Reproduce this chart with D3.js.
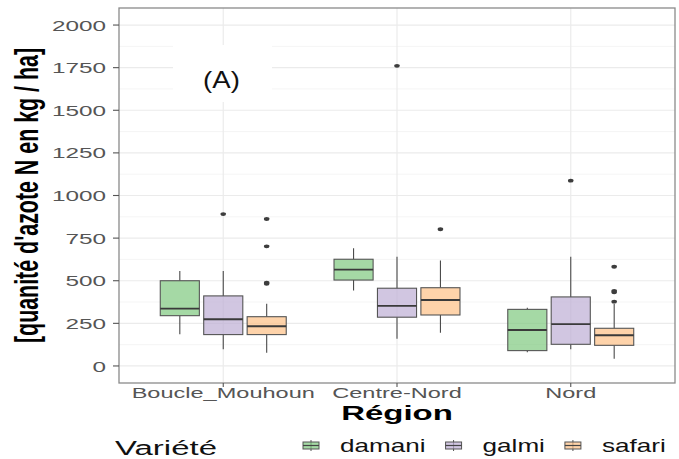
<!DOCTYPE html>
<html>
<head>
<meta charset="utf-8">
<script src="https://cdn.jsdelivr.net/npm/d3@7"></script>
<style>
  body { margin: 0; background: #fff; }
  text { font-family: "Liberation Sans", Arial, sans-serif; }
</style>
</head>
<body>
<script>
// data
const regions = ["Boucle_Mouhoun", "Centre-Nord", "Nord"];
const varieties = ["damani", "galmi", "safari"];
const colors = ["#7FC97F", "#BEAED4", "#FDC086"];

// [lower whisker, q1, median, q3, upper whisker] per region
const damaniStats = [[186, 295, 336, 500, 557], [442, 504, 565, 626, 690], [80, 90, 211, 332, 342]];
const galmiStats = [[98, 184, 274, 411, 557], [160, 286, 352, 456, 641], [98, 127, 245, 405, 641]];
const safariStats = [[78, 184, 233, 289, 365], [195, 299, 387, 459, 618], [43, 121, 180, 221, 365]];

const damaniOutliers = [[], [], []];
const galmiOutliers = [[891], [1761], [1087]];
const safariOutliers = [[862, 702, 482, 489], [802], [582, 432, 440, 377]];

const yTicks = [0, 250, 500, 750, 1000, 1250, 1500, 1750, 2000];
const yMinor = [125, 375, 625, 875, 1125, 1375, 1625, 1875];

const statsBy = [damaniStats, galmiStats, safariStats];
const outliersBy = [damaniOutliers, galmiOutliers, safariOutliers];

const W = 679, H = 459;
const SX = 1.57; // the picture is stretched sideways
const panel = { left: 119, right: 675, top: 8, bottom: 383 };

const svg = d3.select("body").append("svg").attr("width", W).attr("height", H);

const y = d3.scaleLinear().domain([-100, 2100]).range([panel.bottom, panel.top]);
const x = d3.scalePoint().domain(regions).range([panel.left, panel.right]).padding(0.6);
const step = x.step();
const dodge = d3.scaleBand().domain(varieties).range([-0.375 * step, 0.375 * step]);
const boxW = dodge.bandwidth() * 0.9;

// grid
const grid = svg.append("g");
grid.selectAll(".minor").data(yMinor).enter().append("line")
  .attr("x1", panel.left).attr("x2", panel.right)
  .attr("y1", d => y(d)).attr("y2", d => y(d))
  .attr("stroke", "#f3f3f3").attr("stroke-width", 0.8);
grid.selectAll(".major").data(yTicks).enter().append("line")
  .attr("x1", panel.left).attr("x2", panel.right)
  .attr("y1", d => y(d)).attr("y2", d => y(d))
  .attr("stroke", "#ebebeb").attr("stroke-width", 1.2);
grid.selectAll(".vmajor").data(regions).enter().append("line")
  .attr("x1", d => x(d)).attr("x2", d => x(d))
  .attr("y1", panel.top).attr("y2", panel.bottom)
  .attr("stroke", "#ebebeb").attr("stroke-width", 1.2);

// white label box with (A)
svg.append("rect").attr("x", 173).attr("y", 45).attr("width", 99).attr("height", 57).attr("fill", "#fff");
svg.append("text")
  .attr("transform", "translate(221.5,88) scale(1.2,1)")
  .attr("text-anchor", "middle").attr("font-size", 23).attr("fill", "#111")
  .text("(A)");

// boxes
const boxes = [];
regions.forEach((r, ri) => {
  varieties.forEach((v, vi) => {
    boxes.push({ region: r, variety: v, vi: vi, s: statsBy[vi][ri], out: outliersBy[vi][ri] });
  });
});

const bg = svg.append("g").selectAll("g").data(boxes).enter().append("g")
  .attr("transform", d => "translate(" + (x(d.region) + dodge(d.variety) + dodge.bandwidth() / 2) + ",0)");

bg.append("line")
  .attr("y1", d => y(d.s[0])).attr("y2", d => y(d.s[1]))
  .attr("stroke", "#4a4a4a").attr("stroke-width", 1.1);
bg.append("line")
  .attr("y1", d => y(d.s[3])).attr("y2", d => y(d.s[4]))
  .attr("stroke", "#4a4a4a").attr("stroke-width", 1.1);
bg.append("rect")
  .attr("x", -boxW / 2).attr("width", boxW)
  .attr("y", d => y(d.s[3])).attr("height", d => y(d.s[1]) - y(d.s[3]))
  .attr("fill", d => colors[d.vi]).attr("fill-opacity", 0.7)
  .attr("stroke", "#555").attr("stroke-width", 1.1);
bg.append("line")
  .attr("x1", -boxW / 2).attr("x2", boxW / 2)
  .attr("y1", d => y(d.s[2])).attr("y2", d => y(d.s[2]))
  .attr("stroke", "#3a3a3a").attr("stroke-width", 1.8);
bg.selectAll("ellipse").data(d => d.out).enter().append("ellipse")
  .attr("cy", d => y(d)).attr("rx", 2.8).attr("ry", 1.9)
  .attr("fill", "#3d3d3d");

// panel border
svg.append("rect")
  .attr("x", panel.left).attr("y", panel.top)
  .attr("width", panel.right - panel.left).attr("height", panel.bottom - panel.top)
  .attr("fill", "none").attr("stroke", "#8a8a8a").attr("stroke-width", 1.3);

// y axis
const ya = svg.append("g");
ya.selectAll("line").data(yTicks).enter().append("line")
  .attr("x1", panel.left - 6).attr("x2", panel.left)
  .attr("y1", d => y(d)).attr("y2", d => y(d))
  .attr("stroke", "#555").attr("stroke-width", 1.1);
ya.selectAll("text").data(yTicks).enter().append("text")
  .attr("transform", d => "translate(106," + y(d) + ") scale(" + SX + ",1)")
  .attr("dy", "0.36em").attr("text-anchor", "end")
  .attr("font-size", 15.5).attr("fill", "#555")
  .text(d => d);

// x axis
const xa = svg.append("g");
xa.selectAll("line").data(regions).enter().append("line")
  .attr("x1", d => x(d)).attr("x2", d => x(d))
  .attr("y1", panel.bottom).attr("y2", panel.bottom + 4)
  .attr("stroke", "#555").attr("stroke-width", 1.1);
xa.selectAll("text").data(regions).enter().append("text")
  .attr("transform", d => "translate(" + x(d) + ",398) scale(" + SX + ",1)")
  .attr("text-anchor", "middle").attr("font-size", 15).attr("fill", "#555")
  .text(d => d);

// titles
svg.append("text")
  .attr("transform", "translate(" + ((panel.left + panel.right) / 2) + ",420) scale(" + SX + ",1)")
  .attr("text-anchor", "middle").attr("font-size", 21).attr("font-weight", "bold").attr("fill", "#000")
  .text("Région");
svg.append("text")
  .attr("transform", "translate(38,195.5) scale(1.55,1) rotate(-90)")
  .attr("text-anchor", "middle").attr("font-size", 21.4).attr("font-weight", "bold").attr("fill", "#000")
  .text("[quanité d'azote N en kg / ha]");

// legend
svg.append("text")
  .attr("transform", "translate(115,455) scale(" + SX + ",1)")
  .attr("font-size", 21).attr("fill", "#111")
  .text("Variété");

const LSX = 1.45;
let lx = 302;
varieties.forEach((v, i) => {
  const k = svg.append("g").attr("transform", "translate(" + lx + ",440)");
  k.append("line").attr("x1", 9).attr("x2", 9).attr("y1", 0).attr("y2", 11).attr("stroke", "#555").attr("stroke-width", 1);
  k.append("rect").attr("x", 1).attr("y", 2).attr("width", 16).attr("height", 7)
    .attr("fill", colors[i]).attr("fill-opacity", 0.7).attr("stroke", "#555").attr("stroke-width", 1);
  k.append("line").attr("x1", 1).attr("x2", 17).attr("y1", 5.5).attr("y2", 5.5).attr("stroke", "#444").attr("stroke-width", 1.2);
  const t = svg.append("text")
    .attr("transform", "translate(" + (lx + 38) + ",452) scale(" + LSX + ",1)")
    .attr("font-size", 18).attr("fill", "#111")
    .text(v);
  lx += 38 + t.node().getBBox().width * LSX + 19;
});
</script>
</body>
</html>
